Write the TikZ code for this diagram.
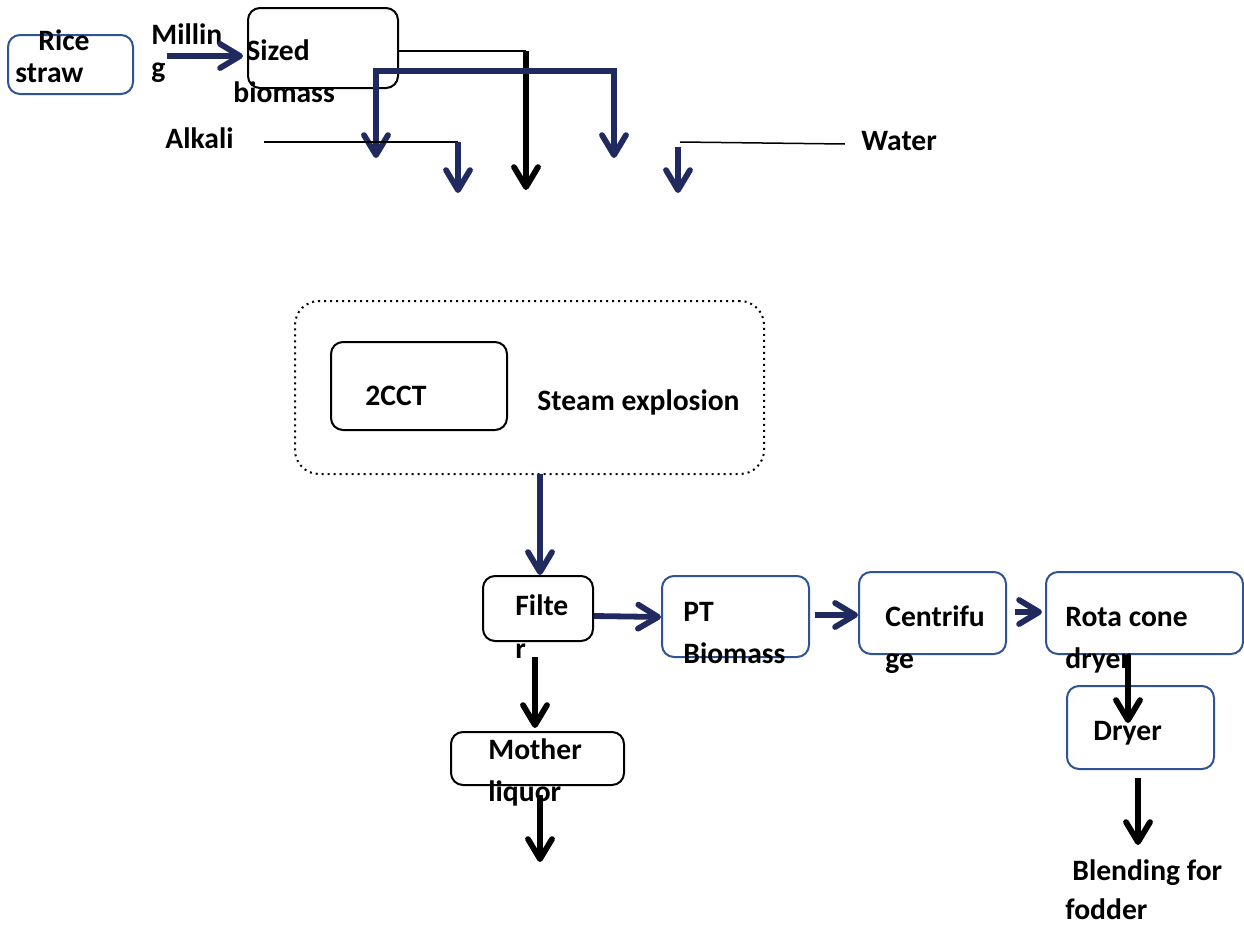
\documentclass[tikz,border=0pt]{standalone}
\usepackage{fontspec}
\setmainfont{Carlito}
\usetikzlibrary{arrows.meta}
\definecolor{flownavy}{RGB}{32,42,94}
\definecolor{boxblue}{RGB}{47,84,150}
\begin{document}
\begin{tikzpicture}[x=0.5pt,y=-0.5pt,
    txt/.style={font=\fontsize{14.8}{17}\selectfont\bfseries, anchor=base west, inner sep=0pt},
    blackbox/.style={draw=black, line width=1pt, rounded corners=6pt, inner sep=0pt},
    bluebox/.style={draw=boxblue, line width=1pt, rounded corners=6pt, inner sep=0pt},
    flow/.style={draw=flownavy, line width=2.9pt, -{Straight Barb[length=10pt,width=12pt,round]}},
    drop/.style={draw=black, line width=2.9pt, -{Straight Barb[length=10pt,width=12pt,round]}},
    feed/.style={draw=black, line width=0.75pt}]
                \useasboundingbox (0,0) rectangle (1244,926) ;
                % boxes
                \node [bluebox, minimum width=62.5pt, minimum height=29.5pt] (rice) at (70.5,64.5) {} ;
                \node [blackbox, minimum width=75pt, minimum height=40pt] (sized) at (323,48) {} ;
                \node [draw, dotted, line width=1pt, rounded corners=12pt, minimum width=234.5pt, minimum height=86.5pt] (steam) at (529.5,387.5) {} ;
                \node [blackbox, minimum width=88pt, minimum height=44pt] (cct) at (419,386) {} ;
                \node [blackbox, minimum width=55pt, minimum height=32.5pt] (filter) at (538,608.5) {} ;
                \node [bluebox, minimum width=73.5pt, minimum height=40.5pt] (ptbio) at (735.5,616.5) {} ;
                \node [bluebox, minimum width=73.5pt, minimum height=41pt] (centri) at (932.5,613) {} ;
                \node [bluebox, minimum width=98.5pt, minimum height=41pt] (rota) at (1144.5,613) {} ;
                \node [bluebox, minimum width=73.5pt, minimum height=41.5pt] (dryer) at (1140.5,727.5) {} ;
                \node [blackbox, minimum width=86.5pt, minimum height=26.5pt] (mother) at (537.5,758.5) {} ;
                % texts
                \node [txt] (ricetxt) at (38,50) {Rice} ;
                \node [txt] (strawtxt) at (15,83) {straw} ;
                \node [txt] (milltxt) at (151,45) {Millin} ;
                \node [txt] (gtxt) at (151,77) {g} ;
                \node [txt] (sizedtxt) at (246,61) {Sized} ;
                \node [txt] (biomtxt) at (233,102) {biomass} ;
                \node [txt] (alkalitxt) at (165,148) {Alkali} ;
                \node [txt] (watertxt) at (861,150) {Water} ;
                \node [txt] (ccttxt) at (365,405) {2CCT} ;
                \node [txt] (steamtxt) at (537,410) {Steam explosion} ;
                \node [txt] (filtetxt) at (515,615) {Filte} ;
                \node [txt] (rtxt) at (515,658) {r} ;
                \node [txt] (pttxt) at (683,621) {PT} ;
                \node [txt] (ptbiotxt) at (683,663) {Biomass} ;
                \node [txt] (centritxt) at (885,626) {Centrifu} ;
                \node [txt] (getxt) at (885,668) {ge} ;
                \node [txt] (rotatxt) at (1065,626) {Rota cone} ;
                \node [txt] (rotadrytxt) at (1065,668) {dryer} ;
                \node [txt] (dryertxt) at (1093,740) {Dryer} ;
                \node [txt] (blendtxt) at (1072,880) {Blending for} ;
                \node [txt] (foddertxt) at (1065,919) {fodder} ;
                \node [txt] (mothertxt) at (488,759) {Mother} ;
                \node [txt] (liquortxt) at (488,801) {liquor} ;
                % connector ends
                \coordinate (millA) at (167,56) ;
                \coordinate (millB) at (243,56) ;
                \coordinate (splitK) at (397,51) ;
                \coordinate (dropK) at (526,51) ;
                \coordinate (dropKend) at (526,190) ;
                \coordinate (splitL) at (376,158) ;
                \coordinate (splitM) at (376,71) ;
                \coordinate (splitN) at (614,71) ;
                \coordinate (splitO) at (614,158) ;
                \coordinate (alkA) at (264,142) ;
                \coordinate (alkB) at (458,142) ;
                \coordinate (alkC) at (458,193) ;
                \coordinate (watA) at (845,144) ;
                \coordinate (watB) at (680,142) ;
                \coordinate (watC) at (678,147) ;
                \coordinate (watD) at (678,193) ;
                \coordinate (steamout) at (540,474) ;
                \coordinate (filterin) at (540,575) ;
                % connectors
                \draw [flow] (millA) -- (millB) ;
                \draw [feed] (splitK) -- (dropK) ;
                \draw [drop] (dropK) -- (dropKend) ;
                \draw [flow, {Straight Barb[length=10pt,width=12pt,round]}-{Straight Barb[length=10pt,width=12pt,round]}] (splitL) -- (splitM) -- (splitN) -- (splitO) ;
                \draw [feed] (alkA) -- (alkB) ;
                \draw [flow] (alkB) -- (alkC) ;
                \draw [feed] (watA) -- (watB) ;
                \draw [flow] (watC) -- (watD) ;
                \draw [flow] (steamout) -- (filterin) ;
                \draw [flow] (filter.east |- 0,616) -- (ptbio.west |- 0,617) ;
                \draw [flow] (815,615) -- (centri.west |- 0,615) ;
                \draw [flow] (1015,612) -- (1042,612) ;
                \draw [drop] (rota.south -| 1128,0) -- (1128,723) ;
                \draw [drop] (1138,778) -- (1138,845) ;
                \draw [drop] (535,657) -- (535,728) ;
                \draw [drop] (540,795) -- (540,862) ;
            \end{tikzpicture}
\end{document}
